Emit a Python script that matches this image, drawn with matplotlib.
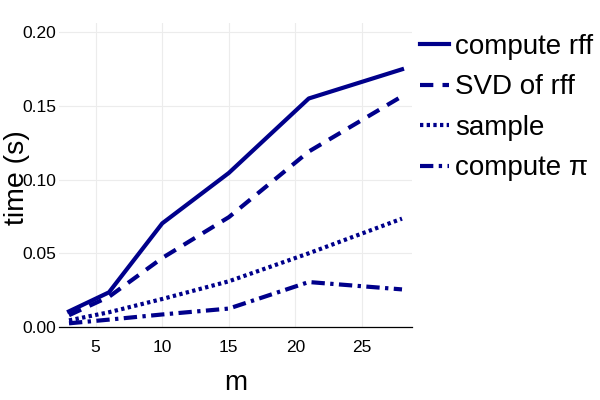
import matplotlib
matplotlib.use("Agg")
import matplotlib.pyplot as plt

m = [3, 6, 10, 15, 21, 28]
compute_rff = [0.0106, 0.0235, 0.0703, 0.1045, 0.1550, 0.1748]
svd_rff = [0.0080, 0.0205, 0.0468, 0.0745, 0.1190, 0.1565]
sample = [0.0045, 0.0100, 0.0190, 0.0310, 0.0500, 0.0735]
compute_pi = [0.0025, 0.0050, 0.0085, 0.0125, 0.0305, 0.0255]
labels = ["compute rff", "SVD of rff", "sample", "compute π"]
x_ticks = [5, 10, 15, 20, 25]
y_ticks = [0.00, 0.05, 0.10, 0.15, 0.20]

plt.rcParams['font.family'] = ['Liberation Sans', 'DejaVu Sans']
color = "#00008B"
lw = 3.0

fig = plt.figure(figsize=(6, 4), dpi=100)
ax = fig.add_axes([59/600, 1 - 327/400, (412 - 59)/600, (327 - 23)/400])

styles = [
    dict(linestyle="-"),
    dict(linestyle=(0, (3.2, 2.2))),
    dict(linestyle=(0, (0.8, 0.8))),
    dict(linestyle=(0, (3.2, 1.3, 0.8, 1.3))),
]
series = [compute_rff, svd_rff, sample, compute_pi]
handles = []
for s, st, lab in zip(series, styles, labels):
    ln, = ax.plot(m, s, color=color, linewidth=lw, label=lab, **st)
    handles.append(ln)

ax.set_xlim(2.25, 28.75)
ax.set_ylim(0, 0.2062)
ax.set_xticks(x_ticks)
ax.set_yticks(y_ticks)
ax.set_yticklabels([f"{v:.2f}" for v in y_ticks])
ax.grid(True, color="#ececec", linewidth=0.8)
ax.set_axisbelow(True)
for sp in ["top", "right", "left"]:
    ax.spines[sp].set_visible(False)
ax.spines["bottom"].set_color("black")
ax.spines["bottom"].set_linewidth(0.9)
ax.tick_params(length=0, labelsize=12.5)
ax.tick_params(axis="y", pad=2)
ax.tick_params(axis="x", pad=9)

fig.text(236/600, 1 - 383/400, "m", fontsize=20, ha="center", va="center")
fig.text(17/600, 1 - 178/400, "time (s)", fontsize=20.5, ha="center", va="center", rotation=90)

leg = fig.legend(handles=handles, labels=labels, loc="upper left",
                 bbox_to_anchor=(420/600, 1 - 34/400), frameon=False,
                 fontsize=20, handlelength=1.05, handletextpad=0.2,
                 labelspacing=0.52, borderaxespad=0, borderpad=0)

fig.savefig("out.png", dpi=100)
